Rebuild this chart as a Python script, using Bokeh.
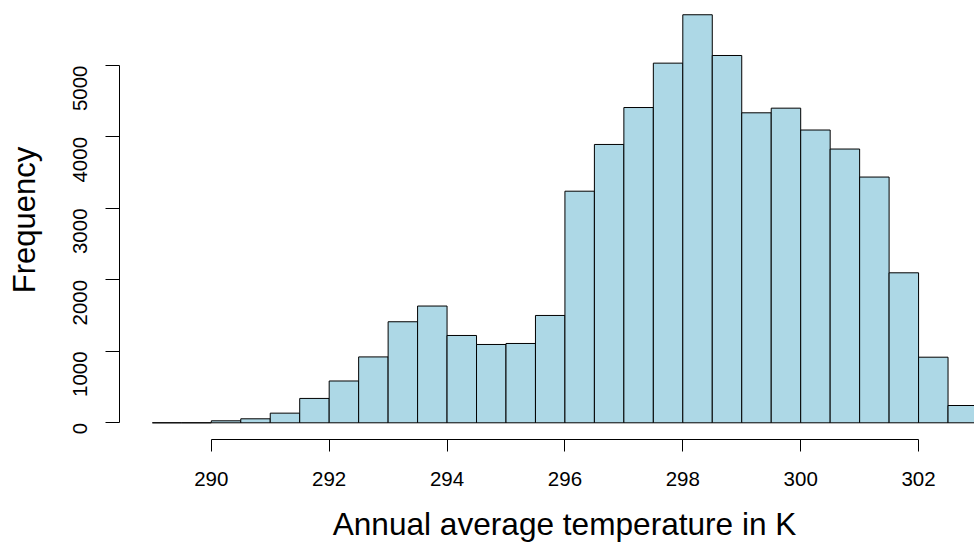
import math
from bokeh.plotting import figure
from bokeh.models import Range1d, FixedTicker, ColumnDataSource
from bokeh.embed import file_html
from bokeh.resources import INLINE

# Histogram data (bin edges in K, counts)
bin_left = [289.0, 289.5, 290.0, 290.5, 291.0, 291.5, 292.0, 292.5, 293.0, 293.5,
            294.0, 294.5, 295.0, 295.5, 296.0, 296.5, 297.0, 297.5, 298.0, 298.5,
            299.0, 299.5, 300.0, 300.5, 301.0, 301.5, 302.0, 302.5]
bin_right = [289.5, 290.0, 290.5, 291.0, 291.5, 292.0, 292.5, 293.0, 293.5, 294.0,
             294.5, 295.0, 295.5, 296.0, 296.5, 297.0, 297.5, 298.0, 298.5, 299.0,
             299.5, 300.0, 300.5, 301.0, 301.5, 302.0, 302.5, 303.0]
counts = [0, 0, 28, 56, 135, 341, 585, 922, 1414, 1634,
          1222, 1096, 1110, 1502, 3241, 3895, 4412, 5033, 5710, 5140,
          4338, 4403, 4097, 3831, 3439, 2099, 918, 242]

x_ticks = [290, 292, 294, 296, 298, 300, 302]
y_ticks = [0, 1000, 2000, 3000, 4000, 5000]
x_title = "Annual average temperature in K"
y_title = "Frequency"

FONT = "Liberation Sans"

p = figure(width=974, height=546, output_backend="svg", toolbar_location=None,
           x_range=Range1d(288.4425, 302.949), y_range=Range1d(-233.7, 5909.6),
           min_border_left=119, min_border_right=0, min_border_top=0,
           min_border_bottom=107)

p.outline_line_color = None
p.grid.visible = False
p.background_fill_color = "white"
p.border_fill_color = "white"

src = ColumnDataSource(dict(left=bin_left, right=bin_right, top=counts,
                            bottom=[0] * len(counts)))
p.quad(left="left", right="right", top="top", bottom="bottom", source=src,
       fill_color="#ADD8E6", line_color="black", line_width=1)

xa = p.xaxis[0]
xa.bounds = (x_ticks[0], x_ticks[-1])
xa.ticker = FixedTicker(ticks=x_ticks)
xa.minor_tick_line_color = None
xa.major_tick_in = 0
xa.major_tick_out = 12
xa.axis_line_color = "black"
xa.major_tick_line_color = "black"
xa.major_label_text_font = FONT
xa.major_label_text_font_size = "20.5px"
xa.major_label_text_color = "black"
xa.major_label_standoff = 20
# leading no-break spaces shift the centred title right, as R centres it on
# its wider plot region
xa.axis_label = "\u00a0\u00a0\u00a0\u00a0" + x_title
xa.axis_label_text_font = FONT
xa.axis_label_text_font_size = "31.6px"
xa.axis_label_text_font_style = "normal"
xa.axis_label_text_color = "black"
xa.axis_label_standoff = 17

ya = p.yaxis[0]
ya.bounds = (y_ticks[0], y_ticks[-1])
ya.ticker = FixedTicker(ticks=y_ticks)
ya.minor_tick_line_color = None
ya.major_tick_in = 0
ya.major_tick_out = 14
ya.axis_line_color = "black"
ya.major_tick_line_color = "black"
ya.major_label_text_font = FONT
ya.major_label_text_font_size = "20.5px"
ya.major_label_text_color = "black"
ya.major_label_orientation = math.pi / 2
ya.major_label_standoff = 25
ya.axis_label = y_title
ya.axis_label_text_font = FONT
ya.axis_label_text_font_size = "31px"
ya.axis_label_text_font_style = "normal"
ya.axis_label_text_color = "black"
ya.axis_label_standoff = 22

open("out.html", "w").write(file_html(p, INLINE))
